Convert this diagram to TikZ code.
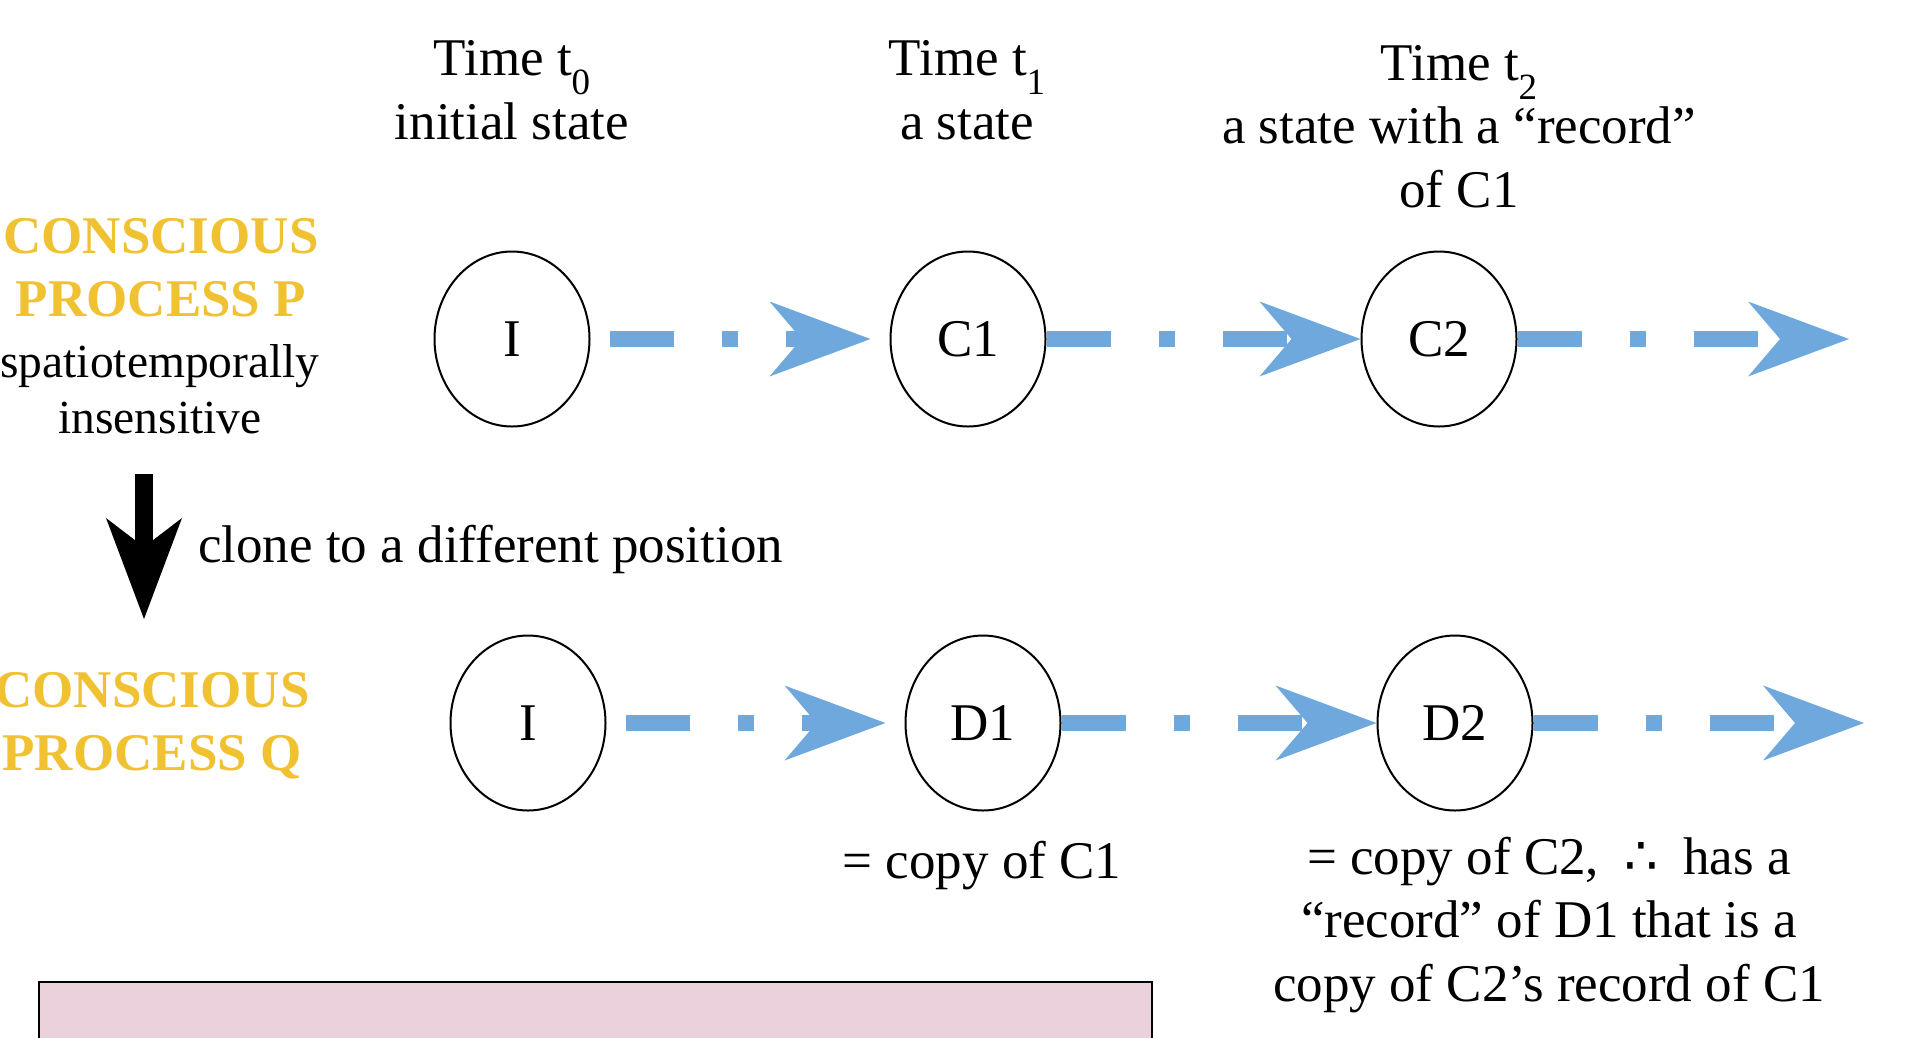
\documentclass[tikz,border=0pt]{standalone}
\usepackage{fontspec}
\setmainfont{Liberation Serif}
\newfontfamily\symfont{DejaVu Sans}
\usetikzlibrary{arrows.meta,shapes.geometric}

\definecolor{flowblue}{RGB}{111,168,220}
\definecolor{procgold}{RGB}{240,194,50}
\definecolor{panelpink}{RGB}{235,209,220}

% text sizes and lowered index digits
\newcommand\diagfont{\fontsize{53}{63.5}\selectfont}
\newcommand\procfont{\fontsize{53}{63}\selectfont\bfseries}
\newcommand\notefont{\fontsize{47.5}{56}\selectfont}
\newcommand\lowidx[1]{\raisebox{-19pt}{\fontsize{37}{37}\selectfont #1}}

\begin{document}
\begin{tikzpicture}[x=1pt,y=-1pt,
  state/.style={ellipse,draw=black,line width=2pt,minimum width=155pt,
    minimum height=175pt,inner sep=0pt,font=\diagfont},
  flow/.style={draw=flowblue,line width=16pt,
    dash pattern=on 64pt off 48pt on 16pt off 48pt,
    -{Stealth[length=101pt,width=75pt,inset=32pt,line width=0pt]}},
  lbl/.style={anchor=base,align=center,inner sep=0pt,font=\diagfont},
  proc/.style={lbl,text=procgold,font=\procfont},
]
\useasboundingbox (0,0) rectangle (1908,1037);
\clip (0,0) rectangle (1908,1037);

% time headings (anchored at the baseline of their last line)
\node[lbl] (t0) at (512,139) {Time t\lowidx{0}\\initial state};
\node[lbl] (t1) at (967,139) {Time t\lowidx{1}\\a state};
\node[lbl] (t2) at (1459,207) {Time t\lowidx{2}\\a state with a “record”\\of C1};

% process names
\node[proc] (procP) at (161,316) {CONSCIOUS\\PROCESS P};
\node[lbl,font=\notefont] (insens) at (160,433) {spatiotemporally\\insensitive};
\node[proc] (procQ) at (152,770) {CONSCIOUS\\PROCESS Q};

% process P
\node[state] (I1) at (512,339) {I};
\node[state] (C1) at (968,339) {C1};
\node[state] (C2) at (1439,339) {C2};
\coordinate (endP) at (1849,339);
\draw[flow,shorten <=19pt,shorten >=19pt] (I1) -- (C1);
\draw[flow] (C1) -- (C2);
\draw[flow] (C2) -- (endP);

% cloning
\coordinate (cloneTop) at (144,474);
\coordinate (cloneTip) at (144,619);
\draw[line width=18pt,-{Stealth[length=101pt,width=76pt,inset=29pt,line width=0pt]}]
  (cloneTop) -- (cloneTip);
\node[anchor=base west,inner sep=0pt,font=\diagfont] (clone) at (198,562)
  {clone to a different position};

% process Q
\node[state] (I2) at (528,723) {I};
\node[state] (D1) at (983,723) {D1};
\node[state] (D2) at (1455,723) {D2};
\coordinate (endQ) at (1864,723);
\draw[flow,shorten <=19pt,shorten >=19pt] (I2) -- (D1);
\draw[flow] (D1) -- (D2);
\draw[flow] (D2) -- (endQ);

% notes under the copies
\node[lbl] (copy1) at (982,878) {= copy of C1};
\node[lbl] (copy2) at (1549,1001)
  {= copy of C2, \hspace{12pt}{\symfont ∴}\hspace{12pt} has a\\“record” of D1 that is a\\copy of C2’s record of C1};

% panel at the bottom
\node[draw=black,line width=1.5pt,fill=panelpink,anchor=north west,
  minimum width=1113pt,minimum height=120pt,inner sep=0pt] (panel) at (38,981) {};
\end{tikzpicture}
\end{document}
